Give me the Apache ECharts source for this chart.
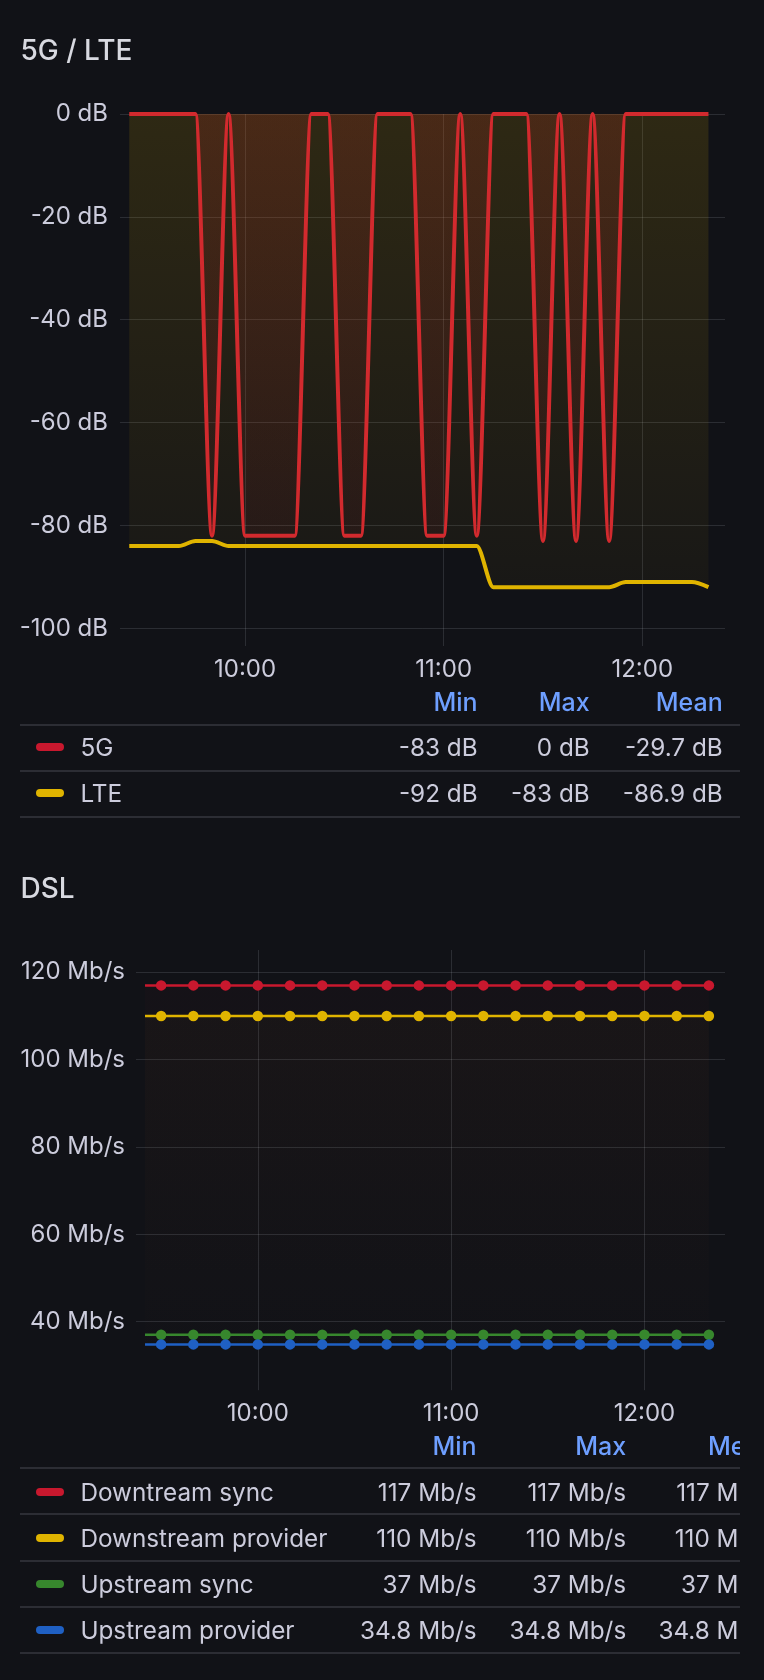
<!DOCTYPE html>
<html>
<head>
<meta charset="utf-8">
<script src="https://cdn.jsdelivr.net/npm/echarts@6/dist/echarts.min.js"></script>
<style>
html,body{margin:0;padding:0;background:#111217;}
body{width:764px;height:1680px;position:relative;overflow:hidden;font-family:Inter,"Noto Sans",sans-serif;color:#ccccdc;}
#chart{position:absolute;left:0;top:0;width:764px;height:1680px;}
.title{position:absolute;left:20.5px;font-size:28px;font-weight:500;color:#d8d9e0;line-height:32px;white-space:nowrap;}
.tbl{position:absolute;left:20px;width:720px;overflow:hidden;}
.cell{position:absolute;font-size:24.3px;line-height:30px;white-space:nowrap;}
.hdr{color:#6e9fff;font-weight:500;font-size:25px;}
.sep{position:absolute;left:0;width:720px;height:2px;background:rgba(204,204,220,0.15);}
.sw{position:absolute;left:16px;width:28px;height:8px;border-radius:4px;}
</style>
</head>
<body>
<div id="chart"></div>
<div class="title" style="top:33.7px">5G / LTE</div>
<div class="title" style="top:872.3px">DSL</div>
<div id="t1" class="tbl" style="top:680px;height:140px"></div>
<div id="t2" class="tbl" style="top:1420px;height:240px"></div>
<script>
// ---------------- data ----------------
const TIMES_RADIO = ['09:25','09:30','09:35','09:40','09:45','09:50','09:55','10:00','10:05','10:10','10:15','10:20',
  '10:25','10:30','10:35','10:40','10:45','10:50','10:55','11:00','11:05','11:10','11:15','11:20',
  '11:25','11:30','11:35','11:40','11:45','11:50','11:55','12:00','12:05','12:10','12:15','12:20'];
const SIG_5G = [0,0,0,0,0,-82,0,-82,-82,-82,-82,0,
  0,-82,-82,0,0,0,-82,-82,0,-82,0,0,
  0,-83,0,-83,0,-83,0,0,0,0,0,0];
const SIG_LTE = [-84,-84,-84,-84,-83,-83,-84,-84,-84,-84,-84,-84,
  -84,-84,-84,-84,-84,-84,-84,-84,-84,-84,-92,-92,
  -92,-92,-92,-92,-92,-92,-91,-91,-91,-91,-91,-92];

const TIMES_DSL = ['09:25','09:30','09:40','09:50','10:00','10:10','10:20','10:30','10:40','10:50',
  '11:00','11:10','11:20','11:30','11:40','11:50','12:00','12:10','12:20'];
const DS_SYNC = [117,117,117,117,117,117,117,117,117,117,117,117,117,117,117,117,117,117,117];
const DS_PROV = [110,110,110,110,110,110,110,110,110,110,110,110,110,110,110,110,110,110,110];
const US_SYNC = [37,37,37,37,37,37,37,37,37,37,37,37,37,37,37,37,37,37,37];
const US_PROV = [34.8,34.8,34.8,34.8,34.8,34.8,34.8,34.8,34.8,34.8,34.8,34.8,34.8,34.8,34.8,34.8,34.8,34.8,34.8];

const X_TICKS = ['10:00','11:00','12:00'];
const Y_TICKS_RADIO = [-100,-80,-60,-40,-20,0];
const Y_TICKS_DSL = [40,60,80,100,120];
const STAT_HEADERS = ['Min','Max','Mean'];

// ---------------- helpers ----------------
const toMin = t => { const p = t.split(':'); return (+p[0]) * 60 + (+p[1]); };
const fmtTime = v => { const h = Math.floor(v / 60), m = Math.round(v - h * 60); return String(h).padStart(2,'0') + ':' + String(m).padStart(2,'0'); };
const fmtNum = v => { let r = Math.round(v * 10) / 10; if (Object.is(r, -0)) r = 0; return String(r); };
const stats = arr => { let mn = Infinity, mx = -Infinity, s = 0; arr.forEach(v => { mn = Math.min(mn, v); mx = Math.max(mx, v); s += v; }); return [mn, mx, s / arr.length]; };

const TXT = '#ccccdc';
const GRID_C = 'rgba(240,250,255,0.12)';
const FONT = 'Inter';
const AX_FS = 24;
const X_MIN = 562.2, X_MAX = 745.0;

const G1 = {left:120, right:39, top:114, height:520.5};
const G2 = {left:136, right:39, top:950, height:430.2};

const vgrad = (rgb, a0, a1, y0, y1) => ({type:'linear', x:0, y:y0, x2:0, y2:y1, global:true,
  colorStops:[{offset:0, color:'rgba(' + rgb + ',' + a0 + ')'}, {offset:1, color:'rgba(' + rgb + ',' + a1 + ')'}]});

const xTickVals = X_TICKS.map(toMin);

function xAxis(gi, margin, tickLen) {
  return {type:'value', gridIndex:gi, min:X_MIN, max:X_MAX,
    axisLine:{show:false, onZero:false},
    axisTick:{show:true, length:tickLen, lineStyle:{color:GRID_C, width:1}, customValues:xTickVals},
    axisLabel:{customValues:xTickVals, formatter:fmtTime, color:TXT, fontSize:AX_FS, fontFamily:FONT, margin:margin},
    splitLine:{show:true, lineStyle:{color:GRID_C, width:1}}};
}
function yAxis(gi, min, max, ticks, unit, margin) {
  return {type:'value', gridIndex:gi, min:min, max:max,
    axisLine:{show:false, onZero:false},
    axisTick:{show:false, customValues:ticks},
    axisLabel:{customValues:ticks, formatter:v => v + ' ' + unit, color:TXT, fontSize:AX_FS, fontFamily:FONT, margin:margin},
    splitLine:{show:true, lineStyle:{color:GRID_C, width:1}}};
}

const radioPts = arr => TIMES_RADIO.map((t, i) => [toMin(t), arr[i]]);
const dslPts = arr => TIMES_DSL.map((t, i) => i === 0 ? {value:[toMin(t), arr[i]], symbol:'none'} : [toMin(t), arr[i]]);

const y1a = G1.top, y1b = G1.top + G1.height;
const y2a = G2.top, y2b = G2.top + G2.height;

const C5G_LINE = '#d22a2e', CLTE = '#e0b400';
const CRED = '#c8182e', CYEL = '#e0b400', CGRN = '#37872d', CBLU = '#1f60c4';

function radioSeries(name, arr, color, fillRgb, a0, a1) {
  return {name:name, type:'line', xAxisIndex:0, yAxisIndex:0, data:radioPts(arr),
    smooth:0.3, smoothMonotone:'x', symbol:'none', clip:false,
    lineStyle:{color:color, width:4}, itemStyle:{color:color},
    areaStyle:{origin:'auto', color:vgrad(fillRgb, a0, a1, y1a, y1b)}};
}
function dslSeries(name, arr, color, fillRgb) {
  return {name:name, type:'line', xAxisIndex:1, yAxisIndex:1, data:dslPts(arr),
    symbol:'circle', symbolSize:10.5, showSymbol:true,
    lineStyle:{color:color, width:2.5}, itemStyle:{color:color},
    areaStyle:{origin:'auto', color:vgrad(fillRgb, 0.035, 0, y2a, y2b)}};
}

const option = {
  animation:false,
  backgroundColor:'#111217',
  textStyle:{fontFamily:FONT},
  grid:[
    Object.assign({outerBoundsMode:'none', containLabel:false}, G1),
    Object.assign({outerBoundsMode:'none', containLabel:false}, G2)
  ],
  xAxis:[xAxis(0, 23.5, 11.5), xAxis(1, 21.5, 10)],
  yAxis:[yAxis(0, -101.2, 0, Y_TICKS_RADIO, 'dB', 12), yAxis(1, 26.6, 125.1, Y_TICKS_DSL, 'Mb/s', 11)],
  series:[
    radioSeries('5G', SIG_5G, C5G_LINE, '196,22,42', 0.25, 0.06),
    radioSeries('LTE', SIG_LTE, CLTE, '224,180,0', 0.2, 0.04),
    dslSeries('Downtream sync', DS_SYNC, CRED, '196,22,42'),
    dslSeries('Downstream provider', DS_PROV, CYEL, '224,180,0'),
    dslSeries('Upstream sync', US_SYNC, CGRN, '55,135,45'),
    dslSeries('Upstream provider', US_PROV, CBLU, '31,96,196')
  ]
};
const chart = echarts.init(document.getElementById('chart'), null, {renderer:'canvas', width:764, height:1680});
chart.setOption(option);

// ---------------- legend tables ----------------
function buildTable(el, cfg) {
  const add = (cls, style, text) => { const d = document.createElement('div'); d.className = cls; d.setAttribute('style', style); if (text !== undefined) d.textContent = text; el.appendChild(d); };
  STAT_HEADERS.forEach((h, i) => add('cell hdr', 'right:' + cfg.rights[i] + 'px;top:' + (cfg.hdrY - 15) + 'px', h));
  cfg.seps.forEach(y => add('sep', 'top:' + (y - 1) + 'px'));
  cfg.rows.forEach((r, k) => {
    const cy = cfg.rowY[k];
    add('sw', 'top:' + (cy - 4) + 'px;background:' + r.color);
    add('cell', 'left:60.4px;top:' + (cy - 15) + 'px', r.name);
    stats(r.data).forEach((v, i) => add('cell', 'right:' + cfg.rights[i] + 'px;top:' + (cy - 15) + 'px', fmtNum(v) + ' ' + cfg.unit));
  });
}
buildTable(document.getElementById('t1'), {
  unit:'dB', hdrY:21.7, seps:[45, 90.7, 136.7], rowY:[67.3, 113.3], rights:[262.4, 150.3, 17.3],
  rows:[{name:'5G', color:CRED, data:SIG_5G}, {name:'LTE', color:CYEL, data:SIG_LTE}]
});
buildTable(document.getElementById('t2'), {
  unit:'Mb/s', hdrY:26, seps:[48.3, 94.3, 140.7, 186.7, 232.7], rowY:[71.5, 117.5, 163.7, 209.7], rights:[263.4, 113.8, -35],
  rows:[{name:'Downtream sync', color:CRED, data:DS_SYNC}, {name:'Downstream provider', color:CYEL, data:DS_PROV},
        {name:'Upstream sync', color:CGRN, data:US_SYNC}, {name:'Upstream provider', color:CBLU, data:US_PROV}]
});
</script>
</body>
</html>
